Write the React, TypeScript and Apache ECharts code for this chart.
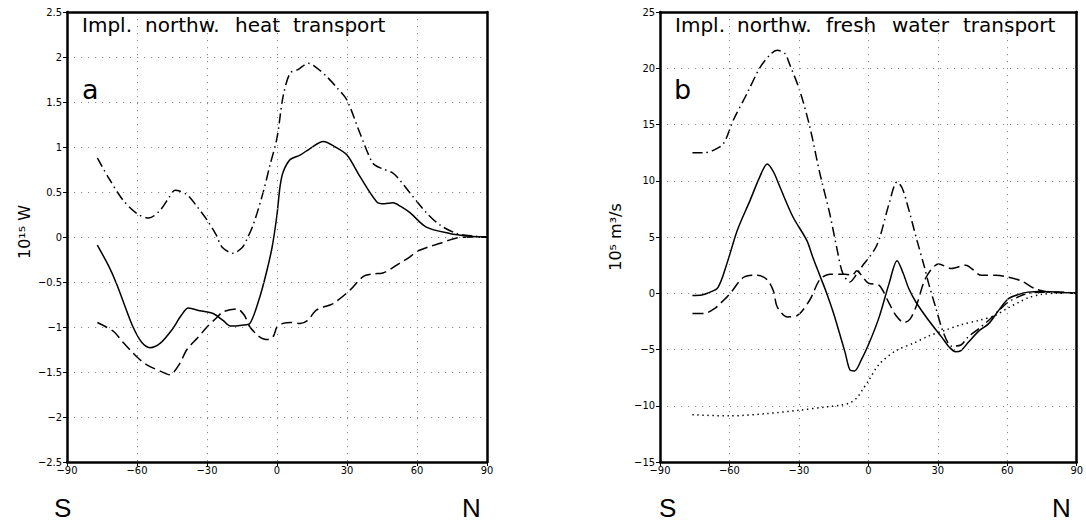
import React, { useEffect, useRef } from "react";
import * as echarts from "echarts";

// ---------- Panel a: implied northward heat transport (10^15 W) ----------
const heatSolidLat = [-77, -72, -68.6, -65, -61.7, -58, -54.4, -50, -45, -41, -38, -33, -27.4, -23, -20, -15, -11.6, -7.3, -4.3, -2, 0, 1.3, 2.6, 5.6, 9.9, 14, 19.8, 25, 30, 35.6, 42.8, 46, 49.7, 53, 57, 64, 74, 82, 88, 90];
const heatSolidVal = [-0.09, -0.33, -0.53, -0.78, -1.0, -1.17, -1.23, -1.18, -1.03, -0.87, -0.79, -0.82, -0.85, -0.93, -0.99, -0.98, -0.96, -0.66, -0.37, -0.1, 0.25, 0.56, 0.72, 0.86, 0.91, 0.98, 1.06, 1.0, 0.91, 0.67, 0.39, 0.37, 0.38, 0.34, 0.27, 0.11, 0.04, 0.01, 0, 0];

const heatDashDotLat = [-77, -72, -66, -60, -55, -50, -46, -43.7, -38.6, -34, -30, -26, -23.6, -18.9, -15, -13, -10, -6, -3, 0, 2.6, 5.6, 9, 13.4, 17, 21.4, 26, 30, 35.6, 41.1, 45, 49.7, 53, 57, 64, 70, 77, 84, 90];
const heatDashDotVal = [0.88, 0.65, 0.41, 0.26, 0.21, 0.3, 0.45, 0.52, 0.47, 0.33, 0.19, 0.02, -0.11, -0.18, -0.12, -0.03, 0.15, 0.49, 0.8, 1.1, 1.56, 1.82, 1.86, 1.93, 1.88, 1.78, 1.65, 1.52, 1.15, 0.82, 0.76, 0.71, 0.62, 0.49, 0.27, 0.13, 0.04, 0.01, 0];

const heatDashedLat = [-77, -70, -66, -61.7, -58, -54.4, -50, -46, -42, -38.6, -34, -30, -26, -23, -17, -14, -11.6, -8, -6, -3.5, -1.5, 0, 2.6, 6, 9.9, 13, 17, 24, 31.3, 36.9, 41, 45.4, 52.7, 57, 60, 65, 70, 77, 84, 90];
const heatDashedVal = [-0.95, -1.05, -1.17, -1.29, -1.38, -1.44, -1.49, -1.53, -1.42, -1.25, -1.12, -1.0, -0.9, -0.83, -0.8, -0.87, -1.0, -1.1, -1.13, -1.14, -1.1, -1.0, -0.96, -0.95, -0.96, -0.93, -0.81, -0.74, -0.59, -0.44, -0.41, -0.4, -0.29, -0.22, -0.16, -0.11, -0.07, -0.01, 0, 0];

// ---------- Panel b: implied northward fresh water transport (10^5 m^3/s) ----------
const fwSolidLat = [-76, -72, -69.5, -65, -61, -56.6, -51, -47, -43.7, -41, -38.1, -32.6, -26.6, -24, -21, -18, -15, -12.4, -10, -8, -6, -3, 0.4, 4.7, 9, 12.4, 15, 17.5, 20.6, 26, 31.7, 35, 37.7, 40, 43, 48, 52, 56, 60.4, 65, 69, 75, 83, 90];
const fwSolidVal = [-0.2, -0.15, 0, 0.5, 2.7, 5.6, 8.3, 10.3, 11.5, 10.8, 9.4, 6.8, 4.7, 3.2, 1.6, 0, -1.8, -3.6, -5.3, -6.8, -6.9, -5.9, -4.4, -2.1, 0.9, 2.9, 1.8, 0.4, -0.8, -2.4, -3.9, -4.8, -5.2, -5.1, -4.4, -3.3, -2.7, -1.6, -0.5, -0.1, 0.1, 0.15, 0.1, 0];

const fwDashDotLat = [-76, -71, -67, -62.6, -58.3, -52.3, -46.7, -42, -39.4, -36, -33.9, -29.6, -25.3, -21, -16.7, -13.7, -11.1, -8, -5, -2, 0, 3, 5, 9, 12.4, 14.5, 16.7, 21, 24, 26, 29, 32.6, 36, 40, 43, 48, 52, 56, 60.4, 65, 69, 76, 83, 90];
const fwDashDotVal = [12.5, 12.5, 12.7, 13.3, 15.4, 17.8, 20.1, 21.3, 21.6, 21.3, 20.3, 18.0, 14.8, 10.7, 7.1, 4.1, 1.8, 1.0, 1.7, 2.6, 3.1, 4.0, 5.0, 8.0, 9.9, 9.4, 8.0, 4.7, 2.5, 0.9, -1.2, -3.6, -4.7, -4.6, -3.9, -3.1, -2.4, -1.6, -0.8, -0.3, 0, 0.1, 0.1, 0];

const fwDashedLat = [-76, -71, -66, -63.9, -59.6, -54, -48, -43.7, -41, -39.4, -35.1, -30.9, -25.3, -21, -16.7, -10, -7, -5, -3, 0, 4.7, 9, 12, 15.4, 18, 20.6, 24.9, 30.4, 36, 42, 48.9, 55, 59, 66, 72, 77.6, 83, 90];
const fwDashedVal = [-1.8, -1.8, -1.3, -0.9, 0, 1.4, 1.6, 1.2, 0.2, -1.2, -2.1, -2.0, -0.6, 1.2, 1.7, 1.7, 1.6, 2.0, 1.6, 0.9, 0.7, -0.9, -2.0, -2.6, -2.3, -1.2, 1.4, 2.6, 2.2, 2.5, 1.6, 1.6, 1.5, 1.1, 0.4, 0.1, 0.05, 0];

const fwDottedLat = [-76, -60, -44, -30, -18, -12, -8, -5, -2.6, 0, 4.7, 12, 20, 26, 33, 40, 48, 54.6, 60.4, 65, 69, 75, 81, 90];
const fwDottedVal = [-10.8, -10.9, -10.7, -10.4, -10.1, -9.95, -9.75, -9.3, -8.6, -7.8, -6.3, -5.1, -4.4, -3.8, -3.3, -2.8, -2.4, -2.0, -1.3, -0.8, -0.4, -0.1, 0, 0];

// ---------- Texts ----------
const titleWordsA = ["Impl.", "northw.", "heat", "transport"];
const titleWordsB = ["Impl.", "northw.", "fresh", "water", "transport"];
const panelLetters = ["a", "b"];
const yTitles = ["10¹⁵ W", "10⁵ m³/s"];
const hemiLabels = ["S", "N"];

const pairs = (xs: number[], ys: number[]) => xs.map((x, i) => [x, ys[i]]);

const minusFmt = (v: number) => (v < 0 ? "\u2212" + String(Math.abs(v)) : String(v));

const TICK_FONT = "'Liberation Sans Narrow', 'DejaVu Sans Condensed', 'Liberation Sans', Arial, sans-serif";
const TITLE_FONT = "'DejaVu Sans', sans-serif";
const LABEL_FONT = "'Liberation Sans', Arial, sans-serif";

export default function App() {
  const ref = useRef<HTMLDivElement>(null);

  useEffect(() => {
    if (!ref.current) return;
    const chart = echarts.init(ref.current, undefined, { renderer: "svg" });

    const frameLine = { show: true, onZero: false, lineStyle: { color: "#000", width: 2.5 } };
    const splitLine = { show: true, lineStyle: { color: "#8a8a8a", width: 1, type: [1.2, 5.8] as any } };
    const tickStyle = { show: true, inside: false, length: 4, lineStyle: { color: "#000", width: 1 } };

    const mkX = (gridIndex: number) => ({
      type: "value" as const,
      gridIndex,
      position: "bottom" as const,
      min: -90,
      max: 90,
      interval: 30,
      axisLine: frameLine,
      axisTick: tickStyle,
      splitLine,
      z: 5,
      axisLabel: { color: "#000", fontSize: 11, fontFamily: TICK_FONT, margin: 3, formatter: minusFmt },
    });
    const mkXTop = (gridIndex: number) => ({
      type: "value" as const,
      gridIndex,
      position: "top" as const,
      min: -90,
      max: 90,
      interval: 30,
      axisLine: frameLine,
      axisTick: { show: false },
      axisLabel: { show: false },
      splitLine: { show: false },
      z: 5,
    });
    const mkY = (gridIndex: number, min: number, max: number, interval: number) => ({
      type: "value" as const,
      gridIndex,
      position: "left" as const,
      min,
      max,
      interval,
      axisLine: frameLine,
      axisTick: tickStyle,
      splitLine,
      z: 5,
      axisLabel: { color: "#000", fontSize: 11, fontFamily: TICK_FONT, margin: 5, formatter: minusFmt },
    });
    const mkYRight = (gridIndex: number, min: number, max: number, interval: number) => ({
      type: "value" as const,
      gridIndex,
      position: "right" as const,
      min,
      max,
      interval,
      axisLine: frameLine,
      axisTick: { show: false },
      axisLabel: { show: false },
      splitLine: { show: false },
      z: 5,
    });

    const line = (axisIndex: number, data: number[][], type: any) => ({
      type: "line" as const,
      xAxisIndex: axisIndex,
      yAxisIndex: axisIndex,
      data,
      smooth: 0.3,
      showSymbol: false,
      symbol: "none",
      silent: true,
      lineStyle: { color: "#000", width: 1.5, type },
    });

    const text = (x: number, y: number, t: string, fontSize: number, fontFamily: string, extra: any = {}) => ({
      type: "text",
      x,
      y,
      silent: true,
      ...extra,
      style: {
        text: t,
        fontSize,
        fontFamily,
        fill: "#000",
        align: extra.align || "left",
        verticalAlign: "middle",
        textAlign: extra.align || "left",
        textVerticalAlign: "middle",
      },
    });

    const titleXA = [82, 145, 235, 293];
    const titleXB = [675, 737, 826, 892, 963];

    const graphics: any[] = [];
    titleWordsA.forEach((w, i) => graphics.push(text(titleXA[i], 25, w, 20, TITLE_FONT)));
    titleWordsB.forEach((w, i) => graphics.push(text(titleXB[i], 25, w, 20, TITLE_FONT)));
    graphics.push(text(82, 89, panelLetters[0], 27, TITLE_FONT));
    graphics.push(text(674, 89, panelLetters[1], 27, TITLE_FONT));
    graphics.push({ ...text(24, 232, yTitles[0], 16, TITLE_FONT, { align: "center" }), rotation: Math.PI / 2 });
    graphics.push({ ...text(615, 237, yTitles[1], 16, TITLE_FONT, { align: "center" }), rotation: Math.PI / 2 });
    graphics.push(text(54, 508, hemiLabels[0], 26, LABEL_FONT));
    graphics.push(text(462, 508, hemiLabels[1], 26, LABEL_FONT));
    graphics.push(text(659, 508, hemiLabels[0], 26, LABEL_FONT));
    graphics.push(text(1052, 508, hemiLabels[1], 26, LABEL_FONT));

    const dashed = [11, 5];
    const dashDot = [10, 4, 1.5, 4];
    const dotted = [1.4, 3.6];

    chart.setOption({
      animation: false,
      backgroundColor: "#fff",
      grid: [
        { show: false, left: 67, top: 12, width: 420, height: 450 },
        { show: false, left: 660, top: 12, width: 418, height: 450 },
      ],
      xAxis: [mkX(0), mkX(1), mkXTop(0), mkXTop(1)],
      yAxis: [mkY(0, -2.5, 2.5, 0.5), mkY(1, -15, 25, 5), mkYRight(0, -2.5, 2.5, 0.5), mkYRight(1, -15, 25, 5)],
      series: [
        line(0, pairs(heatSolidLat, heatSolidVal), "solid"),
        line(0, pairs(heatDashDotLat, heatDashDotVal), dashDot),
        line(0, pairs(heatDashedLat, heatDashedVal), dashed),
        line(1, pairs(fwSolidLat, fwSolidVal), "solid"),
        line(1, pairs(fwDashDotLat, fwDashDotVal), dashDot),
        line(1, pairs(fwDashedLat, fwDashedVal), dashed),
        line(1, pairs(fwDottedLat, fwDottedVal), dotted),
      ],
      graphic: graphics,
    });

    return () => chart.dispose();
  }, []);

  return <div ref={ref} style={{ position: "fixed", left: 0, top: 0, width: 1086, height: 524, background: "#fff" }} />;
}
